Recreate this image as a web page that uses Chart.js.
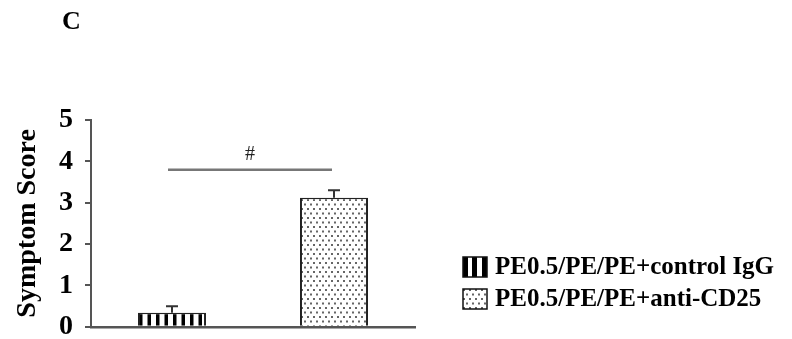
<!DOCTYPE html>
<html>
<head>
<meta charset="utf-8">
<script src="https://cdn.jsdelivr.net/npm/chart.js@4"></script>
<style>
  html, body { margin: 0; padding: 0; background: #fff; }
  #wrap { width: 792px; height: 339px; position: relative; }
</style>
</head>
<body>
<div id="wrap"><canvas id="myChart" width="792" height="339"></canvas></div>
<script>
// data
const groups = ["PE0.5/PE/PE+control IgG", "PE0.5/PE/PE+anti-CD25"];
const scores = [0.34, 3.12];
const errors = [0.16, 0.18];
const yTicks = [0, 1, 2, 3, 4, 5];
const sigMark = "#";
const sigLevel = 3.8;

const serif = "'Liberation Serif', 'DejaVu Serif', serif";

// fills
function stripes() {
  const c = document.createElement("canvas");
  c.width = 17; c.height = 4;
  const g = c.getContext("2d");
  g.fillStyle = "#fff"; g.fillRect(0, 0, 17, 4);
  g.fillStyle = "#000";
  g.fillRect(3, 0, 3.5, 4);
  g.fillRect(11.5, 0, 3.5, 4);
  return g.createPattern(c, "repeat");
}
function dots() {
  const c = document.createElement("canvas");
  c.width = 6; c.height = 9;
  const g = c.getContext("2d");
  g.fillStyle = "#fff"; g.fillRect(0, 0, 6, 9);
  g.fillStyle = "#666";
  g.fillRect(1, 1, 2, 2);
  g.fillRect(4, 5.5, 2, 2);
  return g.createPattern(c, "repeat");
}
const fills = [stripes(), dots()];

// error bars, significance line, panel letter and legend
const extras = {
  id: "extras",
  afterDatasetsDraw(chart) {
    const ctx = chart.ctx;
    const x = chart.scales.x, y = chart.scales.y;
    ctx.save();
    ctx.strokeStyle = "#333";
    ctx.lineWidth = 2;
    scores.forEach((v, i) => {
      const cx = x.getPixelForValue(i);
      const y0 = y.getPixelForValue(v);
      const y1 = y.getPixelForValue(v + errors[i]);
      ctx.beginPath();
      ctx.moveTo(cx, y0); ctx.lineTo(cx, y1);
      ctx.moveTo(cx - 6, y1); ctx.lineTo(cx + 6, y1);
      ctx.stroke();
    });

    // significance bar
    const sy = y.getPixelForValue(sigLevel);
    const sx0 = x.getPixelForValue(0) - 4, sx1 = x.getPixelForValue(1) - 2;
    ctx.strokeStyle = "#777";
    ctx.lineWidth = 2.5;
    ctx.beginPath(); ctx.moveTo(sx0, sy); ctx.lineTo(sx1, sy); ctx.stroke();
    ctx.fillStyle = "#222";
    ctx.font = "20px " + serif;
    ctx.textAlign = "center"; ctx.textBaseline = "middle";
    ctx.fillText(sigMark, (sx0 + sx1) / 2, sy - 15);

    // panel letter
    ctx.font = "bold 26px " + serif;
    ctx.fillStyle = "#000";
    ctx.textAlign = "left";
    ctx.fillText("C", 62, 22);

    // legend
    const rows = [267, 299];
    ctx.font = "bold 25px " + serif;
    groups.forEach((name, i) => {
      const top = rows[i] - 10;
      ctx.fillStyle = i === 0 ? "#fff" : fills[1];
      ctx.fillRect(463, top, 24, 20);
      if (i === 0) {
        ctx.fillStyle = "#000";
        [463, 472, 482].forEach(bx => ctx.fillRect(bx, top, 5, 20));
      }
      ctx.strokeStyle = "#111";
      ctx.lineWidth = 1.5;
      ctx.strokeRect(463, top, 24, 20);
      ctx.fillStyle = "#000";
      ctx.textAlign = "left"; ctx.textBaseline = "middle";
      ctx.fillText(name, 495, rows[i] + 1);
    });
    ctx.restore();
  }
};

new Chart(document.getElementById("myChart"), {
  type: "bar",
  data: {
    labels: groups,
    datasets: [{
      data: scores,
      backgroundColor: fills,
      borderColor: "#222",
      borderWidth: { left: 2, right: 2, top: 1.5, bottom: 0 },
      borderSkipped: false,
      barPercentage: 0.42,
      categoryPercentage: 1
    }]
  },
  options: {
    responsive: false,
    animation: false,
    events: [],
    layout: { autoPadding: false, padding: { left: 0, top: 120, right: 377, bottom: 12 } },
    plugins: { legend: { display: false }, tooltip: { enabled: false } },
    scales: {
      x: {
        ticks: { display: false },
        grid: { display: false, drawTicks: false },
        border: { display: true, color: "#555", width: 2.5 },
        afterFit(s) { s.height = 0; }
      },
      y: {
        min: 0, max: 5,
        afterBuildTicks(s) { s.ticks = yTicks.map(v => ({ value: v })); },
        ticks: {
          color: "#000",
          padding: 12,
          font: { family: serif, size: 28, weight: "bold", lineHeight: 0.01 }
        },
        grid: { drawOnChartArea: false, drawTicks: true, tickLength: 6, color: "#555", lineWidth: 2 },
        border: { display: true, color: "#555", width: 2 },
        title: {
          display: true,
          text: "Symptom Score",
          color: "#000",
          font: { family: serif, size: 28, weight: "bold" },
          padding: { top: 11, bottom: 0 }
        },
        afterFit(s) { s.width = 91; }
      }
    }
  },
  plugins: [extras]
});
</script>
</body>
</html>
